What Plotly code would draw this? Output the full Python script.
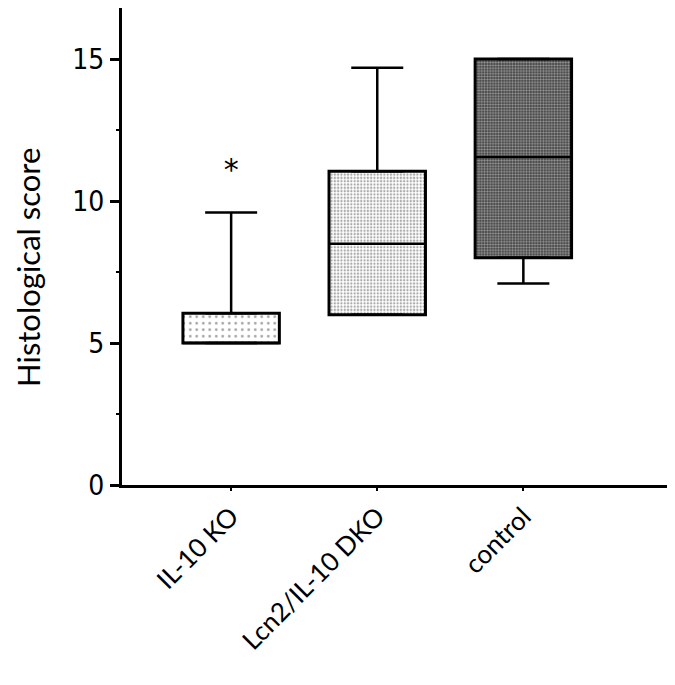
import plotly.graph_objects as go

# group order and box statistics
GROUPS = ["IL-10 KO", "Lcn2/IL-10 DKO", "control"]
POS = [0, 1, 2]
LOW = [5.0, 6.0, 7.1]
Q1 = [5.0, 6.0, 8.0]
MEDIAN = [5.0, 8.5, 11.55]
Q3 = [6.05, 11.05, 15.0]
HIGH = [9.6, 14.7, 15.0]

STAR_Y = [11.0]
STAR_X = [0]

Y_TICKS = [0, 5, 10, 15]
BOX_W = 0.66

fig = go.Figure()

patterns = [
    dict(shape=".", size=6.5, solidity=0.14, fgcolor="#444", bgcolor="white", fillmode="overlay"),
    dict(shape=".", size=3.3, solidity=0.4, fgcolor="#555", bgcolor="white", fillmode="overlay"),
    dict(shape=".", size=2.8, solidity=0.5, fgcolor="white", bgcolor="#333", fillmode="overlay"),
]

for i in range(3):
    fig.add_trace(go.Bar(
        x=[POS[i]], y=[Q3[i] - Q1[i]], base=[Q1[i]], width=BOX_W,
        marker=dict(color="white", pattern=patterns[i],
                    line=dict(color="black", width=3)),
        showlegend=False, hoverinfo="skip",
    ))

# upper whiskers
fig.add_trace(go.Scatter(
    x=POS, y=Q3, mode="markers", marker=dict(size=1, color="rgba(0,0,0,0)"),
    error_y=dict(type="data", symmetric=False,
                 array=[h - q for h, q in zip(HIGH, Q3)],
                 arrayminus=[0, 0, 0], color="black", thickness=2.5, width=26),
    showlegend=False, hoverinfo="skip",
))
# lower whiskers
fig.add_trace(go.Scatter(
    x=POS, y=Q1, mode="markers", marker=dict(size=1, color="rgba(0,0,0,0)"),
    error_y=dict(type="data", symmetric=False, array=[0, 0, 0],
                 arrayminus=[q - l for q, l in zip(Q1, LOW)],
                 color="black", thickness=2.5, width=26),
    showlegend=False, hoverinfo="skip",
))
# medians
fig.add_trace(go.Scatter(
    x=POS, y=MEDIAN, mode="markers", marker=dict(size=1, color="rgba(0,0,0,0)"),
    error_x=dict(type="constant", value=BOX_W / 2, color="black", thickness=2.5, width=0),
    showlegend=False, hoverinfo="skip",
))
# significance marker
fig.add_trace(go.Scatter(
    x=STAR_X, y=STAR_Y, mode="text", text=["*"],
    textfont=dict(size=30, color="black", family="DejaVu Sans"),
    showlegend=False, hoverinfo="skip",
))

fig.add_annotation(
    text="Histological score", textangle=-90, showarrow=False,
    xref="paper", yref="paper", x=0, y=0.455, xanchor="center", yanchor="middle",
    xshift=-94, font=dict(family="Lato, Open Sans, sans-serif", size=31, color="black"),
)

fig.update_layout(
    width=675, height=685,
    margin=dict(l=114, r=15, t=0, b=208),
    plot_bgcolor="white", paper_bgcolor="white",
    barmode="overlay",
    xaxis=dict(
        range=[-0.747, 2.99], tickvals=POS, ticktext=GROUPS, tickangle=-45,
        showline=True, linecolor="black", linewidth=3, showgrid=False,
        zeroline=False, ticks="outside", ticklen=3, tickwidth=2, tickcolor="black",
        tickfont=dict(family="Lato, Open Sans, sans-serif", size=26, color="black"),
    ),
    yaxis=dict(
        range=[0, 16.8], tickvals=Y_TICKS,
        showline=True, linecolor="black", linewidth=3, showgrid=False,
        zeroline=False, ticks="outside", ticklen=9, tickwidth=3, tickcolor="black",
        minor=dict(tickvals=[2.5, 7.5, 12.5], ticks="outside", ticklen=3,
                   tickwidth=2, tickcolor="black"),
        tickfont=dict(family="Liberation Sans Narrow, DejaVu Sans Condensed, sans-serif",
                      size=28, color="black"),
    ),
)

fig.write_html("out.html")
